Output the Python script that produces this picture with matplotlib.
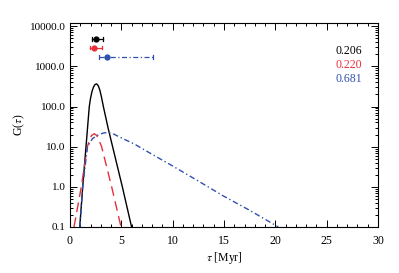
import matplotlib
matplotlib.use('Agg')
import matplotlib.pyplot as plt
from matplotlib.ticker import FormatStrFormatter, LogLocator, MultipleLocator

plt.rcParams['font.family'] = ['Liberation Serif', 'DejaVu Serif']
plt.rcParams['mathtext.fontset'] = 'stix'

# curves G(tau)
black_tau = [0.95, 1.24, 1.56, 1.88, 2.0, 2.15, 2.3, 2.45, 2.6, 2.75, 2.9, 3.05, 3.25, 3.7, 4.15, 5.1, 6.0]
black_g = [0.1, 1.0, 10, 100, 160, 240, 310, 355, 365, 330, 260, 180, 100, 30, 10, 1.0, 0.1]

red_tau = [0.39, 1.1, 1.7, 1.9, 2.1, 2.37, 2.6, 2.8, 3.08, 4.06, 4.97]
red_g = [0.1, 1.0, 10, 15, 19, 21, 19, 15, 10, 1.0, 0.1]

blue_tau = [0.97, 1.24, 1.7, 2.2, 2.8, 3.3, 3.7, 4.2, 4.9, 6.3, 7.8, 10.0, 12.7, 14.9, 17.5, 20.3]
blue_g = [0.1, 1.0, 10, 16, 20, 22, 22.5, 21, 17, 11.5, 6.9, 3.3, 1.3, 0.6, 0.26, 0.1]

# mean ages with error bars
pt_tau = [2.53, 2.34, 3.57]
pt_lo = [2.14, 1.95, 2.82]
pt_hi = [3.24, 3.1, 8.05]
pt_g = [4700, 2940, 1700]
labels = ['0.206', '0.220', '0.681']

colors = ['black', '#e8303a', '#3050b0']
styles = ['-', (0, (7, 4)), (0, (4, 2, 1, 2))]

fig = plt.figure(figsize=(3.99, 2.73), dpi=100)
ax = fig.add_axes([0.1754, 0.1685, 0.772, 0.7473])

ax.plot(black_tau, black_g, color=colors[0], ls=styles[0], lw=1.0)
ax.plot(red_tau, red_g, color=colors[1], ls=styles[1], lw=1.0)
ax.plot(blue_tau, blue_g, color=colors[2], ls=styles[2], lw=1.0)

for i in range(3):
    ax.plot([pt_lo[i], pt_hi[i]], [pt_g[i], pt_g[i]], color=colors[i], ls=styles[i] if i == 2 else '-', lw=0.9)
    ax.plot([pt_lo[i], pt_lo[i]], [pt_g[i] / 1.12, pt_g[i] * 1.12], color=colors[i], lw=0.9)
    ax.plot([pt_hi[i], pt_hi[i]], [pt_g[i] / 1.12, pt_g[i] * 1.12], color=colors[i], lw=0.9)
    ax.plot(pt_tau[i], pt_g[i], 'o', color=colors[i], ms=3.5)
    ax.text(0.947, 0.863 - i * 0.069, labels[i], color=colors[i], fontsize=8.5,
            ha='right', va='center', transform=ax.transAxes)

ax.set_yscale('log')
ax.set_xlim(0, 30)
ax.set_ylim(0.1, 12000)
ax.xaxis.set_major_locator(MultipleLocator(5))
ax.xaxis.set_minor_locator(MultipleLocator(1))
ax.yaxis.set_major_locator(LogLocator(base=10))
ax.yaxis.set_minor_locator(LogLocator(base=10, subs=range(2, 10)))
ax.yaxis.set_major_formatter(FormatStrFormatter('%.1f'))
ax.tick_params(which='both', direction='in', top=True, right=True, labelsize=8, width=0.7)
ax.tick_params(which='major', length=5)
ax.tick_params(which='minor', length=2.5)
ax.tick_params(axis='x', pad=6, labelsize=8.5)
ax.tick_params(axis='y', pad=3)
for s in ax.spines.values():
    s.set_linewidth(0.8)

ax.set_xlabel(r'$\tau$ [Myr]', fontsize=8.5, labelpad=2)
ax.set_ylabel(r'G($\tau$)', fontsize=8.5, labelpad=2)

fig.savefig('out.png', dpi=100)
